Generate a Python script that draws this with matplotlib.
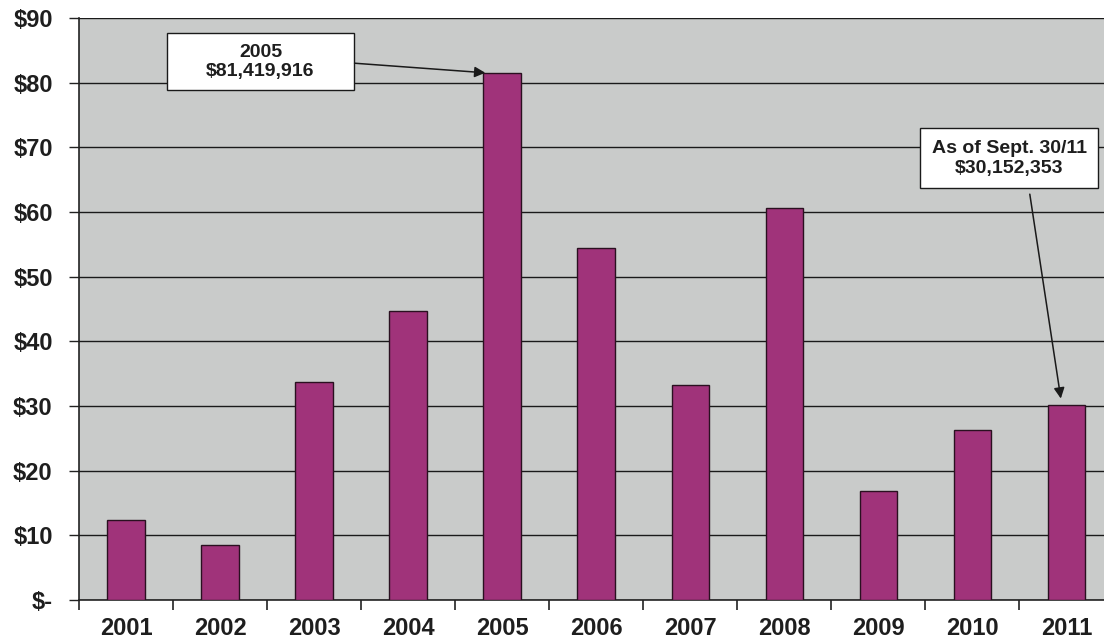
import matplotlib
matplotlib.use("Agg")
import matplotlib.pyplot as plt
from matplotlib.patches import Rectangle
import numpy as np

plt.rcParams['font.family'] = ['Liberation Sans', 'DejaVu Sans']

years = ["2001", "2002", "2003", "2004", "2005", "2006",
         "2007", "2008", "2009", "2010", "2011"]
amounts = [12.4, 8.5, 33.7, 44.7, 81.42, 54.4, 33.2, 60.6, 16.8, 26.3, 30.15]
ytick_vals = [0, 10, 20, 30, 40, 50, 60, 70, 80, 90]
ytick_labels = ["$-", "$10", "$20", "$30", "$40", "$50", "$60", "$70", "$80", "$90"]
note_peak = "2005\n$81,419,916"
note_latest = "As of Sept. 30/11\n$30,152,353"

fig = plt.figure(figsize=(11.04, 6.41), dpi=100)
fig.patch.set_facecolor("white")
ax = fig.add_axes([0.0716, 0.064, 0.937, 0.908])
ax.set_facecolor("#c9cbca")

x = np.arange(len(years))
ax.bar(x, amounts, width=0.4, color="#a0337a", edgecolor="#2a1020",
       linewidth=1.0, zorder=3)

ax.set_ylim(0, 90)
ax.set_xlim(-0.5, len(years) - 0.5)
ax.set_yticks(ytick_vals)
ax.set_yticklabels(ytick_labels)
ax.yaxis.grid(True, color="#1a1a1a", linewidth=1.0, zorder=1)
ax.set_axisbelow(True)

ax.set_xticks(x)
ax.set_xticklabels(years)
ax.set_xticks(np.arange(-0.5, len(years), 1.0), minor=True)
ax.tick_params(axis="x", which="major", length=0, pad=12)
ax.tick_params(axis="x", which="minor", length=7, width=1.2, color="#222222")
ax.tick_params(axis="y", length=7, width=1.0, color="#222222", pad=12)
for lbl in ax.get_xticklabels() + ax.get_yticklabels():
    lbl.set_fontsize(17)
    lbl.set_fontweight("bold")
    lbl.set_color("#1e1e1e")

for side in ["top", "right"]:
    ax.spines[side].set_visible(False)
for side in ["left", "bottom"]:
    ax.spines[side].set_color("#222222")
    ax.spines[side].set_linewidth(1.2)

# callout boxes
for (x0, x1, y0, y1) in [(0.436, 2.426, 78.8, 87.6), (8.447, 10.34, 63.7, 72.95)]:
    ax.add_patch(Rectangle((x0, y0), x1 - x0, y1 - y0, facecolor="white",
                           edgecolor="#1a1a1a", linewidth=1.0, zorder=5))

ax.text(1.43, 83.2, note_peak, ha="center", va="center", fontsize=14,
        fontweight="bold", color="#1e1e1e", linespacing=1.2, zorder=6)
ax.text(9.39, 68.3, note_latest, ha="center", va="center", fontsize=14,
        fontweight="bold", color="#1e1e1e", linespacing=1.2, zorder=6)

arrow = dict(arrowstyle="-|>", color="#1a1a1a", linewidth=1.1, mutation_scale=16,
             shrinkA=0, shrinkB=0)
ax.annotate("", xy=(x[4] - 0.18, amounts[4] + 0.1), xytext=(2.43, 83.0),
            arrowprops=arrow, zorder=6)
ax.annotate("", xy=(x[10] - 0.06, amounts[10] + 1.0), xytext=(9.61, 62.75),
            arrowprops=arrow, zorder=6)

fig.savefig("out.png", dpi=100)
